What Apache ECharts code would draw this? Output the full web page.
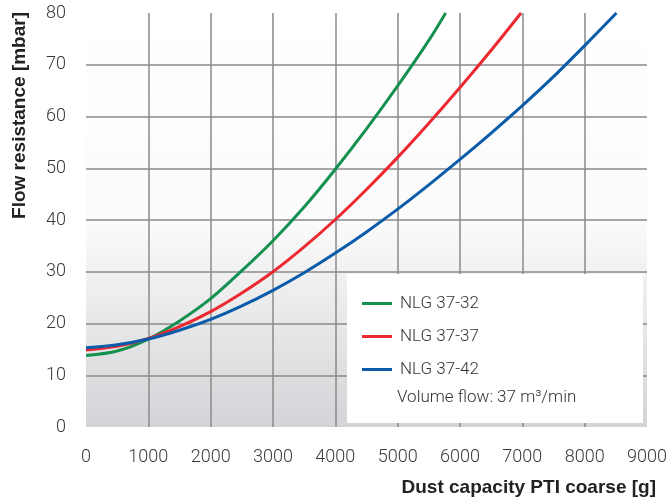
<!DOCTYPE html>
<html>
<head>
<meta charset="utf-8">
<script src="https://cdn.jsdelivr.net/npm/echarts@6/dist/echarts.min.js"></script>
<style>html,body{margin:0;padding:0;background:#fff;}#c{width:670px;height:499px;}</style>
</head>
<body>
<div id="c"></div>
<script>
var seriesNames = ['NLG 37-32', 'NLG 37-37', 'NLG 37-42'];
var greenX = [0, 500, 1000, 1500, 2000, 2500, 3000, 3500, 4000, 4500, 5000, 5500, 5770];
var greenY = [13.8, 14.7, 17.0, 20.5, 24.8, 30.2, 36.0, 42.5, 49.8, 57.6, 65.9, 74.7, 80];
var redX = [0, 500, 1000, 1500, 2000, 2500, 3000, 3500, 4000, 4500, 5000, 5500, 6000, 6500, 6980];
var redY = [14.9, 15.6, 17.1, 19.4, 22.3, 25.9, 30.0, 34.8, 40.1, 45.9, 52.1, 58.7, 65.6, 72.8, 80];
var blueX = [0, 500, 1000, 1500, 2000, 2500, 3000, 3500, 4000, 4500, 5000, 5500, 6000, 6500, 7000, 7500, 8000, 8510];
var blueY = [15.3, 15.9, 17.0, 18.7, 20.8, 23.4, 26.4, 29.8, 33.6, 37.7, 42.1, 46.8, 51.7, 56.8, 62.1, 67.7, 73.7, 80];
var xTicks = [0, 1000, 2000, 3000, 4000, 5000, 6000, 7000, 8000, 9000];
var yTicks = [0, 10, 20, 30, 40, 50, 60, 70, 80];
var colors = ['#14904f', '#ec2830', '#0a5caa'];
var xTitle = 'Dust capacity PTI coarse [g]';
var yTitle = 'Flow resistance [mbar]';
var noteText = 'Volume flow: 37 m\u00B3/min';

function pairs(xs, ys) { return xs.map(function (x, i) { return [x, ys[i]]; }); }
var dataSets = [pairs(greenX, greenY), pairs(redX, redY), pairs(blueX, blueY)];

var chart = echarts.init(document.getElementById('c'), null, {renderer: 'canvas'});
var labelFont = {fontFamily: 'Roboto', fontWeight: 300, fontSize: 18, color: '#3a3a3a'};
var option = {
  animation: false,
  grid: {
    left: 86, right: 23, top: 13, bottom: 72, show: true, borderWidth: 0,
    backgroundColor: new echarts.graphic.LinearGradient(0, 0, 0, 1, [
      {offset: 0, color: '#ffffff'}, {offset: 0.5, color: '#fbfbfb'}, {offset: 1, color: '#d3d4d7'}
    ])
  },
  xAxis: {
    type: 'value', min: xTicks[0], max: xTicks[xTicks.length - 1], interval: 1000,
    axisLine: {show: false}, axisTick: {show: false},
    axisLabel: Object.assign({margin: 21, formatter: function (v) { return String(v); }}, labelFont),
    splitLine: {show: true, showMinLine: false, showMaxLine: false, lineStyle: {color: '#8a8a8a', width: 1.5}}
  },
  yAxis: {
    type: 'value', min: yTicks[0], max: yTicks[yTicks.length - 1], interval: 10,
    axisLine: {show: false}, axisTick: {show: false},
    axisLabel: Object.assign({margin: 20}, labelFont),
    splitLine: {show: true, showMinLine: false, showMaxLine: false, lineStyle: {color: '#8a8a8a', width: 1.5}}
  },
  legend: {
    orient: 'vertical', left: 357, top: 290, z: 20,
    itemWidth: 30, itemHeight: 3, itemGap: 16, icon: 'rect',
    textStyle: {fontFamily: 'Roboto', fontWeight: 300, fontSize: 17, color: '#333', padding: [0, 0, 0, 3]},
    data: seriesNames
  },
  graphic: [
    {type: 'rect', z: 10, shape: {x: 347, y: 274, width: 296, height: 149}, style: {fill: '#ffffff'}},
    {type: 'text', z: 21, x: 397, y: 398, style: {text: noteText, font: '300 17px Roboto', fill: '#333', textAlign: 'left', textVerticalAlign: 'middle'}},
    {type: 'text', z: 21, x: 656, y: 488, style: {text: xTitle, font: 'bold 19px "Liberation Sans"', fill: '#222', textAlign: 'right', textVerticalAlign: 'middle'}},
    {type: 'text', z: 21, x: 20, y: 12, rotation: Math.PI / 2, style: {text: yTitle, font: 'bold 19px "Liberation Sans"', fill: '#222', textAlign: 'right', textVerticalAlign: 'middle'}}
  ],
  series: dataSets.map(function (d, i) {
    return {
      name: seriesNames[i], type: 'line', data: d, smooth: 0.3, symbol: 'none',
      lineStyle: {color: colors[i], width: 3}, itemStyle: {color: colors[i]}, z: 3
    };
  })
};
chart.setOption(option);
</script>
</body>
</html>
